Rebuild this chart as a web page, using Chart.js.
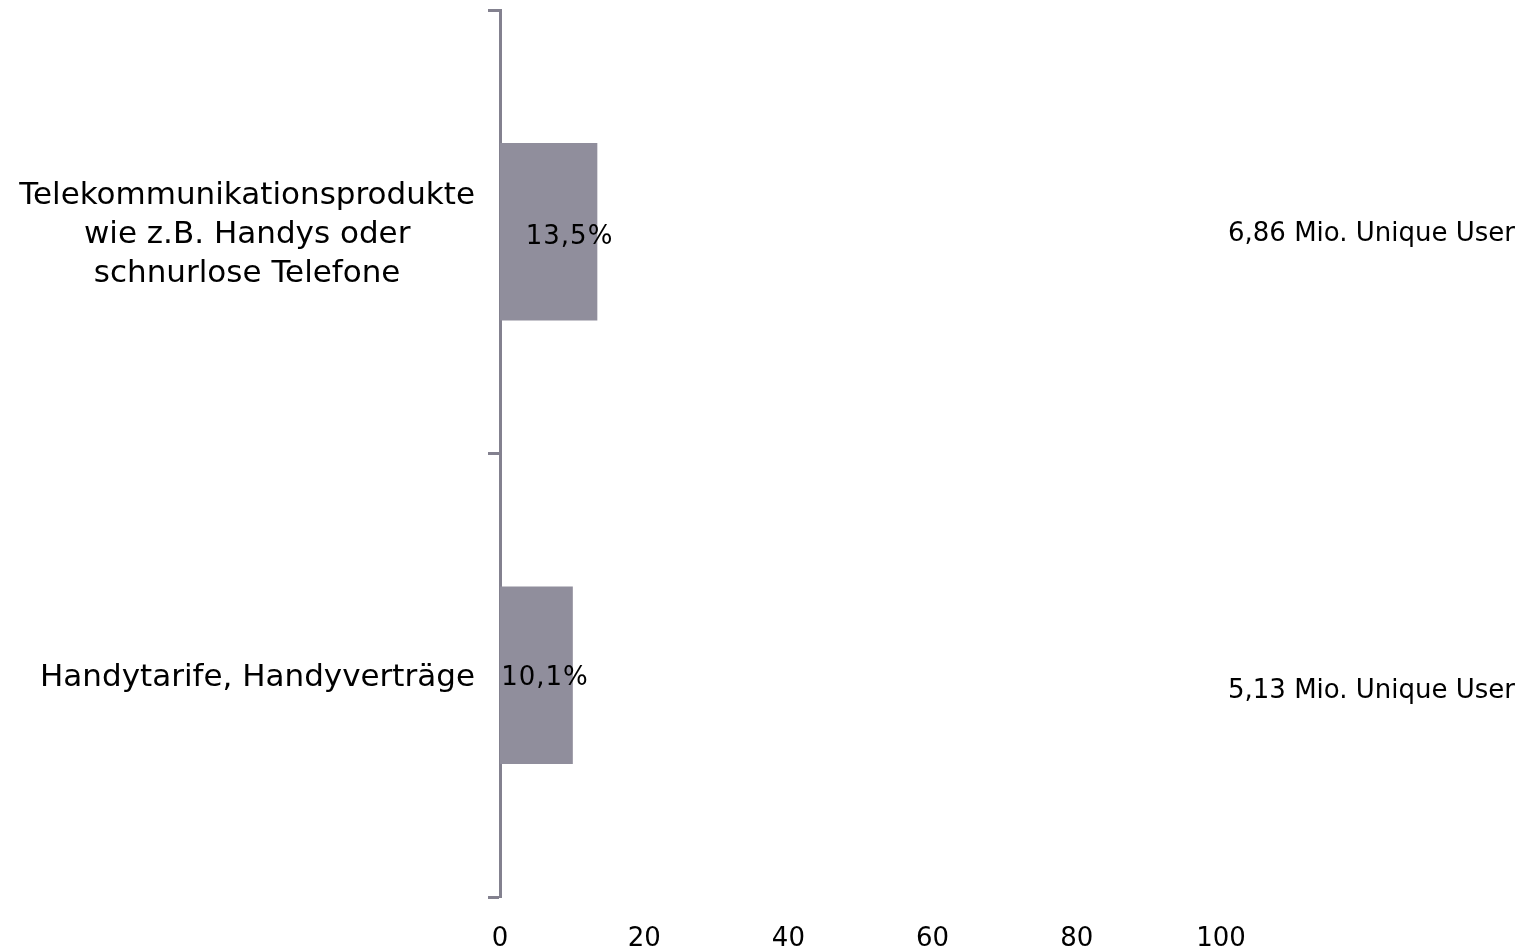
<!DOCTYPE html>
<html>
<head>
<meta charset="utf-8">
<script src="https://cdn.jsdelivr.net/npm/chart.js@4/dist/chart.umd.min.js"></script>
<style>
  html, body { margin: 0; padding: 0; background: #fff; }
  #wrap { width: 1522px; height: 952px; }
</style>
</head>
<body>
<div id="wrap"><canvas id="c" width="1522" height="952"></canvas></div>
<script>
// Share of users by product interest (percent) and reach in unique users
const categories = [
  ['Telekommunikationsprodukte', 'wie z.B. Handys oder', 'schnurlose Telefone'],
  ['Handytarife, Handyverträge']
];
const shares = [13.5, 10.1];
const shareLabels = ['13,5%', '10,1%'];
const reachLabels = ['6,86 Mio. Unique User', '5,13 Mio. Unique User'];
const xTicks = [0, 20, 40, 60, 80, 100];

const AXIS = '#83818f';
const BAR = '#908e9c';
const FONT = '"DejaVu Sans", Verdana, sans-serif';

// Category names: each block right-aligned against the axis, its lines centred
const categoryLabelPlugin = {
  id: 'categoryLabels',
  afterDraw(chart) {
    const ctx = chart.ctx;
    const y = chart.scales.y;
    const right = y.right - 25;
    const lineH = 39;
    ctx.save();
    ctx.font = '31px ' + FONT;
    ctx.fillStyle = '#000';
    ctx.textAlign = 'center';
    ctx.textBaseline = 'middle';
    categories.forEach((lines, i) => {
      const widest = Math.max(...lines.map(l => ctx.measureText(l).width));
      const cx = right - widest / 2;
      const cy = y.getPixelForValue(i);
      const top = cy - (lines.length - 1) * lineH / 2;
      lines.forEach((l, k) => ctx.fillText(l, cx, top + k * lineH + 3));
    });
    ctx.restore();
  }
};

// Percent value printed inside each bar, near its end
const shareLabelPlugin = {
  id: 'shareLabels',
  afterDatasetsDraw(chart) {
    const ctx = chart.ctx;
    const meta = chart.getDatasetMeta(0);
    ctx.save();
    ctx.font = '26px ' + FONT;
    ctx.letterSpacing = '1px';
    ctx.fillStyle = '#000';
    ctx.textAlign = 'right';
    ctx.textBaseline = 'middle';
    meta.data.forEach((bar, i) => {
      ctx.fillText(shareLabels[i], bar.x + 16, bar.y + (i === 0 ? 5 : 3));
    });
    ctx.restore();
  }
};

// Reach figures written at the right edge, level with each category
const reachPlugin = {
  id: 'reachLabels',
  afterDraw(chart) {
    const ctx = chart.ctx;
    const y = chart.scales.y;
    ctx.save();
    ctx.font = '26px ' + FONT;
    ctx.fillStyle = '#000';
    ctx.textAlign = 'right';
    ctx.textBaseline = 'middle';
    reachLabels.forEach((t, i) => {
      ctx.fillText(t, chart.width - 7, y.getPixelForValue(i) + (i === 1 ? 16 : 2));
    });
    ctx.restore();
  }
};

new Chart(document.getElementById('c'), {
  type: 'bar',
  data: {
    labels: categories,
    datasets: [{
      data: shares,
      backgroundColor: BAR,
      borderWidth: 0,
      barPercentage: 0.4,
      categoryPercentage: 1
    }]
  },
  options: {
    indexAxis: 'y',
    responsive: false,
    animation: false,
    layout: { padding: { top: 10, right: 301, left: 0, bottom: 0 } },
    plugins: { legend: { display: false }, tooltip: { enabled: false } },
    scales: {
      x: {
        min: 0,
        max: 100,
        afterBuildTicks(scale) { scale.ticks = xTicks.map(v => ({ value: v })); },
        afterFit(scale) { scale.height = 55; },
        grid: { display: false },
        border: { display: false },
        ticks: {
          color: '#000',
          font: { family: FONT, size: 26 },
          padding: 19,
          maxRotation: 0
        }
      },
      y: {
        afterFit(scale) { scale.width = 500; },
        border: { display: true, color: AXIS, width: 3 },
        grid: {
          display: true,
          offset: true,
          drawOnChartArea: false,
          tickLength: 12,
          tickWidth: 3,
          tickColor: AXIS
        },
        ticks: { display: false }
      }
    }
  },
  plugins: [shareLabelPlugin, categoryLabelPlugin, reachPlugin]
});
</script>
</body>
</html>
